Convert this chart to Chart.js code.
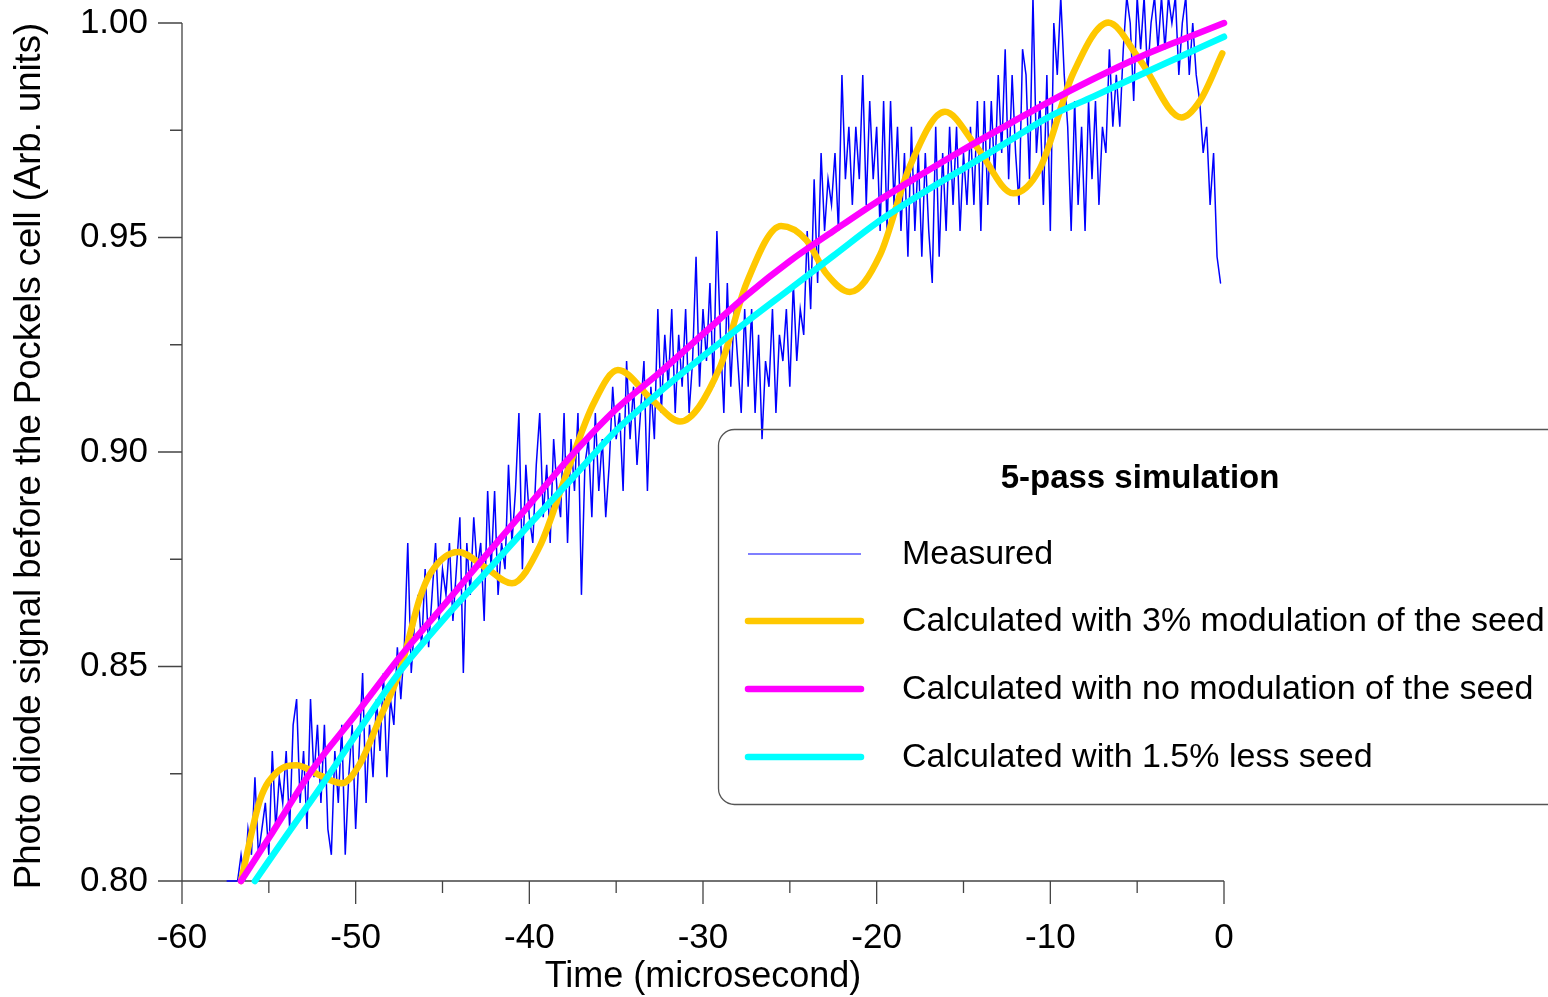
<!DOCTYPE html>
<html>
<head>
<meta charset="utf-8">
<title>5-pass simulation</title>
<script src="https://cdn.jsdelivr.net/npm/chart.js@4.4.1/dist/chart.umd.min.js"></script>
<style>
  html, body { margin: 0; padding: 0; background: #fff; }
  #wrap { width: 1548px; height: 997px; }
</style>
</head>
<body>
<div id="wrap"><canvas id="chart" width="1548" height="997"></canvas></div>
<script>
// --- DATA ---
const xMajorTicks = [-60, -50, -40, -30, -20, -10, 0];
const xMinorTicks = [-55, -45, -35, -25, -15, -5];
const yMajorTicks = [0.80, 0.85, 0.90, 0.95, 1.00];
const yMinorTicks = [0.825, 0.875, 0.925, 0.975];

// measured photo diode trace, one sample every 0.2 microsecond from -57.4
const measuredStart = -57.4;
const measuredStep = 0.2;
const measuredValues = [
  0.8000,0.8000,0.8000,0.8000,0.8061,0.8000,0.8121,0.8061,0.8242,0.8061,
  0.8121,0.8182,0.8061,0.8303,0.8121,0.8242,0.8182,0.8303,0.8121,0.8364,
  0.8424,0.8182,0.8303,0.8121,0.8424,0.8242,0.8364,0.8182,0.8364,0.8121,
  0.8061,0.8303,0.8182,0.8364,0.8061,0.8242,0.8364,0.8121,0.8303,0.8485,
  0.8182,0.8364,0.8242,0.8424,0.8303,0.8485,0.8242,0.8424,0.8364,0.8545,
  0.8424,0.8545,0.8788,0.8485,0.8606,0.8667,0.8545,0.8727,0.8545,0.8667,
  0.8788,0.8606,0.8727,0.8667,0.8788,0.8606,0.8727,0.8848,0.8485,0.8788,
  0.8667,0.8848,0.8727,0.8788,0.8606,0.8909,0.8727,0.8909,0.8667,0.8788,
  0.8727,0.8970,0.8788,0.8909,0.9091,0.8727,0.8970,0.8848,0.8788,0.8970,
  0.9091,0.8848,0.8970,0.8788,0.9030,0.8909,0.8848,0.9091,0.8788,0.9030,
  0.8909,0.9091,0.8667,0.8970,0.9030,0.8848,0.9091,0.8909,0.9030,0.8848,
  0.8970,0.9152,0.9030,0.9091,0.8909,0.9212,0.9030,0.9152,0.8970,0.9091,
  0.9212,0.8909,0.9152,0.9030,0.9333,0.9091,0.9273,0.9152,0.9333,0.9091,
  0.9273,0.9152,0.9333,0.9091,0.9212,0.9455,0.9152,0.9333,0.9212,0.9394,
  0.9152,0.9515,0.9273,0.9091,0.9394,0.9152,0.9333,0.9212,0.9091,0.9333,
  0.9152,0.9333,0.9091,0.9273,0.9030,0.9212,0.9152,0.9333,0.9091,0.9273,
  0.9212,0.9333,0.9152,0.9394,0.9212,0.9333,0.9273,0.9515,0.9333,0.9636,
  0.9394,0.9697,0.9515,0.9636,0.9576,0.9697,0.9515,0.9879,0.9636,0.9758,
  0.9576,0.9758,0.9636,0.9879,0.9576,0.9818,0.9636,0.9758,0.9515,0.9818,
  0.9515,0.9818,0.9576,0.9758,0.9515,0.9697,0.9455,0.9758,0.9515,0.9697,
  0.9455,0.9697,0.9515,0.9394,0.9758,0.9455,0.9697,0.9515,0.9758,0.9576,
  0.9758,0.9515,0.9697,0.9576,0.9758,0.9576,0.9818,0.9515,0.9818,0.9576,
  0.9818,0.9636,0.9879,0.9697,0.9939,0.9636,0.9879,0.9697,0.9576,0.9939,
  0.9879,0.9636,1.0061,0.9697,0.9818,0.9576,0.9879,0.9515,1.0000,0.9879,
  1.0061,0.9879,0.9758,0.9515,0.9818,0.9576,0.9758,0.9515,0.9818,0.9636,
  0.9818,0.9576,0.9758,0.9697,0.9939,0.9758,0.9879,0.9758,0.9939,1.0061,
  1.0000,0.9818,1.0061,0.9939,1.0061,0.9879,1.0000,1.0061,0.9939,1.0061,
  0.9939,1.0061,1.0000,1.0061,0.9879,1.0000,1.0061,0.9879,1.0000,0.9879,
  0.9818,0.9697,0.9758,0.9576,0.9697,0.9455,0.9394
];

// calculated with 3% modulation of the seed
const goldTime = [-56.6, -55.5, -54.5, -53.4, -52.0, -50.8, -49.8, -48.6, -47.45, -46.3, -45.7, -44.1,
  -42.5, -41.0, -39.4, -37.85, -36.3, -34.9, -32.9, -31.33, -29.0, -27.5, -25.5, -24.05, -22.9,
  -21.54, -19.8, -18.1, -16.07, -14.24, -12.13, -10.6, -8.68, -6.66, -4.84, -2.44, -1.38, -0.1];
const goldValues = [0.800, 0.819, 0.8255, 0.827, 0.8245, 0.8228, 0.827, 0.838, 0.849, 0.866, 0.8717, 0.8767,
  0.873, 0.8694, 0.878, 0.895, 0.9113, 0.9191, 0.912, 0.9071, 0.920, 0.9393, 0.9527, 0.9494, 0.9416,
  0.9373, 0.946, 0.9665, 0.9793, 0.9711, 0.9603, 0.9661, 0.9883, 1.0001, 0.9914, 0.9780, 0.9819, 0.9929];

// calculated with no modulation of the seed
const magentaTime = [-56.6, -55, -52.5, -50, -47.5, -45, -42.5, -40, -37.5, -35, -32.5, -30, -27.5,
  -25, -22.5, -20, -17.5, -15, -12.5, -10, -7.5, -5, -2.5, 0];
const magentaValues = [0.800, 0.810, 0.8259, 0.8388, 0.852, 0.8639, 0.8759, 0.8877, 0.8995, 0.9100, 0.9185,
  0.9275, 0.9365, 0.9445, 0.9515, 0.9583, 0.9645, 0.9705, 0.9762, 0.9818, 0.9870, 0.9918, 0.9960, 1.000];

// calculated with 1.5% less seed
const cyanTime = [-55.8, -54, -52, -50, -47.5, -45, -42.5, -40, -37.5, -35, -32.5, -30, -27.5,
  -25, -22.5, -20, -17.5, -15, -12.5, -10, -7.5, -5, -2.5, 0];
const cyanValues = [0.800, 0.8105, 0.822, 0.834, 0.8486, 0.8607, 0.8719, 0.8831, 0.8940, 0.9050, 0.9140,
  0.9223, 0.9303, 0.9380, 0.9457, 0.9534, 0.9600, 0.9661, 0.9722, 0.9783, 0.9829, 0.9876, 0.9922, 0.9968];

const legendTitle = '5-pass simulation';
const xTitle = 'Time (microsecond)';
const yTitle = 'Photo diode signal before the Pockels cell (Arb. units)';
const seriesLabels = [
  'Measured',
  'Calculated with 3% modulation of the seed',
  'Calculated with no modulation of the seed',
  'Calculated with 1.5% less seed'
];

// --- STYLE ---
const FONT = "'Liberation Sans', Arial, Helvetica, sans-serif";
const AXIS_COLOR = '#444';
const colors = ['#0000ff', '#ffc800', '#ff00ff', '#00ffff'];
const widths = [1.5, 6.5, 6.5, 6.5];

const pairs = (xs, ys) => ys.map((y, i) => ({ x: xs[i], y: y }));
const measuredPoints = measuredValues.map((y, i) => ({ x: measuredStart + i * measuredStep, y: y }));

// keep the plot box fixed: no extra padding from overflowing tick labels
function fixX(s) { s.height = 116; s.paddingLeft = 0; s.paddingRight = 0; }
function fixY(s) { s.width = 182; s.paddingTop = 0; s.paddingBottom = 0; }

// axes with long major and short minor ticks, plus the axis titles
const axesPlugin = {
  id: 'axesPlugin',
  beforeDatasetsDraw(chart) {
    const ctx = chart.ctx;
    const xs = chart.scales.x, ys = chart.scales.y;
    const area = chart.chartArea;
    ctx.save();
    ctx.strokeStyle = AXIS_COLOR;
    ctx.lineWidth = 1.3;
    ctx.beginPath();
    ctx.moveTo(area.left, area.top);
    ctx.lineTo(area.left, area.bottom);
    ctx.lineTo(area.right, area.bottom);
    yMajorTicks.forEach(v => {
      const p = ys.getPixelForValue(v);
      ctx.moveTo(area.left - 24, p); ctx.lineTo(area.left, p);
    });
    yMinorTicks.forEach(v => {
      const p = ys.getPixelForValue(v);
      ctx.moveTo(area.left - 12, p); ctx.lineTo(area.left, p);
    });
    xMajorTicks.forEach(v => {
      const p = xs.getPixelForValue(v);
      ctx.moveTo(p, area.bottom); ctx.lineTo(p, area.bottom + 23);
    });
    xMinorTicks.forEach(v => {
      const p = xs.getPixelForValue(v);
      ctx.moveTo(p, area.bottom); ctx.lineTo(p, area.bottom + 12);
    });
    ctx.stroke();

    ctx.fillStyle = '#000';
    ctx.textAlign = 'center';
    ctx.textBaseline = 'middle';
    ctx.font = '36px ' + FONT;
    ctx.fillText(xTitle, 703, 977);
    ctx.translate(30, 456);
    ctx.rotate(-Math.PI / 2);
    ctx.font = '36.5px ' + FONT;
    ctx.fillText(yTitle, 0, 0);
    ctx.restore();
  }
};

// boxed legend inside the plot
const legendPlugin = {
  id: 'legendPlugin',
  afterDraw(chart) {
    const ctx = chart.ctx;
    ctx.save();
    ctx.strokeStyle = '#555';
    ctx.lineWidth = 1.3;
    ctx.beginPath();
    ctx.roundRect(718.5, 429.5, 900, 375, 16);
    ctx.stroke();

    ctx.fillStyle = '#000';
    ctx.textBaseline = 'middle';
    ctx.textAlign = 'center';
    ctx.font = 'bold 33px ' + FONT;
    ctx.fillText(legendTitle, 1140, 479);

    ctx.textAlign = 'left';
    ctx.font = '34px ' + FONT;
    const rows = [554, 621, 689, 757];
    chart.data.datasets.forEach((ds, i) => {
      const y = rows[i];
      ctx.strokeStyle = ds.borderColor;
      ctx.lineWidth = i === 0 ? 1.2 : ds.borderWidth;
      ctx.lineCap = i === 0 ? 'butt' : 'round';
      ctx.beginPath();
      ctx.moveTo(748, y);
      ctx.lineTo(861, y);
      ctx.stroke();
      ctx.fillStyle = '#000';
      ctx.fillText(ds.label, 902, y + 1);
    });
    ctx.restore();
  }
};

const series = [measuredPoints, pairs(goldTime, goldValues), pairs(magentaTime, magentaValues), pairs(cyanTime, cyanValues)];

new Chart(document.getElementById('chart'), {
  type: 'line',
  data: {
    datasets: series.map((pts, i) => ({
      label: seriesLabels[i],
      data: pts,
      borderColor: colors[i],
      backgroundColor: colors[i],
      borderWidth: widths[i],
      pointRadius: 0,
      fill: false,
      clip: false,
      tension: 0,
      cubicInterpolationMode: i === 0 ? 'default' : 'monotone',
      borderCapStyle: 'round',
      borderJoinStyle: i === 0 ? 'miter' : 'round',
      order: 4 - i
    }))
  },
  options: {
    responsive: false,
    animation: false,
    events: [],
    layout: { padding: { left: 0, top: 23, right: 324, bottom: 0 } },
    plugins: { legend: { display: false }, tooltip: { enabled: false } },
    scales: {
      x: {
        type: 'linear',
        min: -60,
        max: 0,
        afterFit: fixX,
        afterBuildTicks: s => { s.ticks = xMajorTicks.map(v => ({ value: v })); },
        grid: { display: false, drawTicks: false },
        border: { display: false },
        ticks: { color: '#000', font: { family: FONT, size: 35 }, padding: 36, maxRotation: 0, autoSkip: false },
        title: { display: false }
      },
      y: {
        min: 0.80,
        max: 1.00,
        afterFit: fixY,
        afterBuildTicks: s => { s.ticks = yMajorTicks.map(v => ({ value: v })); },
        grid: { display: false, drawTicks: false },
        border: { display: false },
        ticks: { color: '#000', font: { family: FONT, size: 35 }, padding: 34, callback: v => v.toFixed(2) },
        title: { display: false }
      }
    }
  },
  plugins: [axesPlugin, legendPlugin]
});
</script>
</body>
</html>
